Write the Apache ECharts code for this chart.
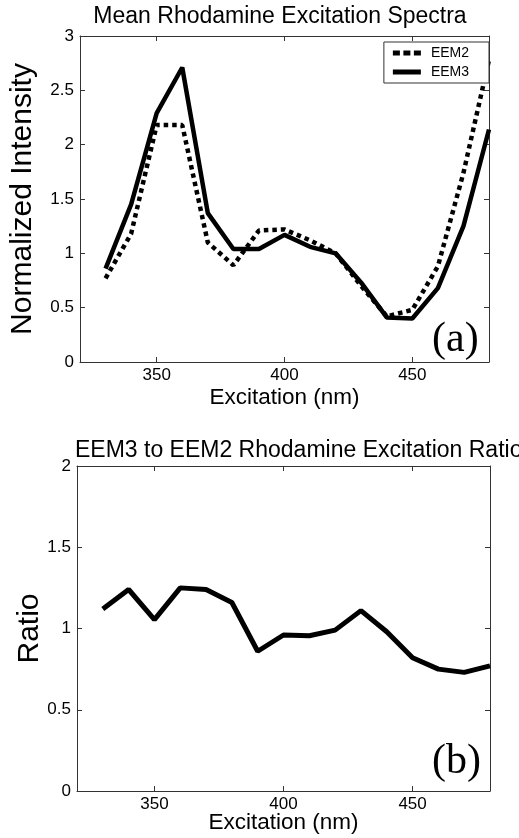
<!DOCTYPE html>
<html>
<head>
<meta charset="utf-8">
<script src="https://cdn.jsdelivr.net/npm/echarts@6/dist/echarts.min.js"></script>
<style>
html,body{margin:0;padding:0;background:#fff;}
#chart{width:519px;height:838px;}
</style>
</head>
<body>
<div id="chart"></div>
<script>
// Data
var excitation = [330, 340, 350, 360, 370, 380, 390, 400, 410, 420, 430, 440, 450, 460, 470, 480];
var eem2 = [0.77, 1.18, 2.18, 2.18, 1.10, 0.89, 1.21, 1.22, 1.12, 1.00, 0.70, 0.42, 0.48, 0.88, 1.74, 2.78];
var eem3 = [0.86, 1.45, 2.29, 2.71, 1.37, 1.04, 1.04, 1.17, 1.06, 1.00, 0.73, 0.41, 0.40, 0.68, 1.25, 2.14];
var ratio = [1.12, 1.24, 1.055, 1.25, 1.24, 1.16, 0.86, 0.96, 0.955, 0.99, 1.11, 0.98, 0.82, 0.75, 0.73, 0.77];
var xTicks = [350, 400, 450];

function pairs(xs, ys) { return xs.map(function (x, i) { return [x, ys[i]]; }); }

var FONT = 'Liberation Sans, Arial, Helvetica, sans-serif';
var AXC = '#333';

function xAx(grid, pos, showLabel, name, nameGap) {
  return {
    type: 'value', gridIndex: grid, position: pos, min: 320, max: 480,
    name: name || '', nameLocation: 'middle', nameGap: nameGap || 0, nameMoveOverlap: false,
    nameTextStyle: { fontFamily: FONT, fontSize: 22.5, color: '#000' },
    axisLine: { show: true, onZero: false, lineStyle: { color: AXC, width: 1 } },
    axisTick: { show: true, inside: true, length: 5, customValues: xTicks, lineStyle: { color: AXC } },
    axisLabel: { show: showLabel, customValues: xTicks, fontFamily: FONT, fontSize: 17, color: '#000', margin: 5 },
    splitLine: { show: false }
  };
}
function yAx(grid, pos, showLabel, max, name, nameGap) {
  return {
    type: 'value', gridIndex: grid, position: pos, min: 0, max: max, interval: 0.5,
    name: name || '', nameLocation: 'middle', nameGap: nameGap || 0, nameMoveOverlap: false,
    nameTextStyle: { fontFamily: FONT, fontSize: 30, color: '#000' },
    axisLine: { show: true, onZero: false, lineStyle: { color: AXC, width: 1 } },
    axisTick: { show: true, inside: true, length: 5, lineStyle: { color: AXC } },
    axisLabel: { show: showLabel, fontFamily: FONT, fontSize: 17, color: '#000', margin: 6 },
    splitLine: { show: false }
  };
}

var dottedIcon = 'path://M0,0h7v5h-7z M10.5,0h7v5h-7z M21,0h7v5h-7z';
var solidIcon = 'path://M0,0h28v5h-28z';

var chart = echarts.init(document.getElementById('chart'), null, { renderer: 'canvas' });
chart.setOption({
  animation: false,
  backgroundColor: '#fff',
  title: [
    { text: 'Mean Rhodamine Excitation Spectra', left: 280, top: 5, textAlign: 'center', padding: 0,
      textStyle: { fontFamily: FONT, fontSize: 23, fontWeight: 'normal', color: '#000' } },
    { text: 'EEM3 to EEM2 Rhodamine Excitation Ratio', left: 75, top: 439, padding: 0,
      textStyle: { fontFamily: FONT, fontSize: 23, fontWeight: 'normal', color: '#000' } }
  ],
  legend: {
    data: [{ name: 'EEM2', icon: dottedIcon }, { name: 'EEM3', icon: solidIcon }],
    orient: 'vertical', right: 30, top: 42,
    itemWidth: 28, itemHeight: 5, itemGap: 3, padding: [3, 20, 3, 9],
    borderColor: '#333', borderWidth: 1, backgroundColor: '#fff',
    itemStyle: { color: '#000', borderWidth: 0 },
    lineStyle: { width: 0 },
    textStyle: { fontFamily: FONT, fontSize: 14, color: '#000', padding: [0, 0, 0, 5], lineHeight: 16 }
  },
  grid: [
    { left: 76, top: 36, width: 413, height: 326 },
    { left: 77, top: 466, width: 413, height: 325 }
  ],
  xAxis: [
    xAx(0, 'bottom', true, 'Excitation (nm)', 24),
    xAx(0, 'top', false),
    xAx(1, 'bottom', true, 'Excitation (nm)', 20),
    xAx(1, 'top', false)
  ],
  yAxis: [
    yAx(0, 'left', true, 3, 'Normalized Intensity', 42),
    yAx(0, 'right', false, 3),
    yAx(1, 'left', true, 2, 'Ratio', 32),
    yAx(1, 'right', false, 2)
  ],
  series: [
    { name: 'EEM2', type: 'line', xAxisIndex: 0, yAxisIndex: 0, data: pairs(excitation, eem2),
      symbol: 'none', lineStyle: { color: '#000', width: 4.5, type: [4.5, 4], cap: 'butt' }, itemStyle: { color: '#000' } },
    { name: 'EEM3', type: 'line', xAxisIndex: 0, yAxisIndex: 0, data: pairs(excitation, eem3),
      symbol: 'none', lineStyle: { color: '#000', width: 4.5 }, itemStyle: { color: '#000' } },
    { name: 'Ratio', type: 'line', xAxisIndex: 2, yAxisIndex: 2, data: pairs(excitation, ratio),
      symbol: 'none', lineStyle: { color: '#000', width: 5 }, itemStyle: { color: '#000' } }
  ],
  graphic: [
    { type: 'text', left: 432, top: 319, z: 100,
      style: { text: '(a)', fontFamily: 'Liberation Serif, Times New Roman, serif', fontSize: 42, fill: '#000' } },
    { type: 'text', left: 432, top: 741, z: 100,
      style: { text: '(b)', fontFamily: 'Liberation Serif, Times New Roman, serif', fontSize: 42, fill: '#000' } }
  ]
});
</script>
</body>
</html>
